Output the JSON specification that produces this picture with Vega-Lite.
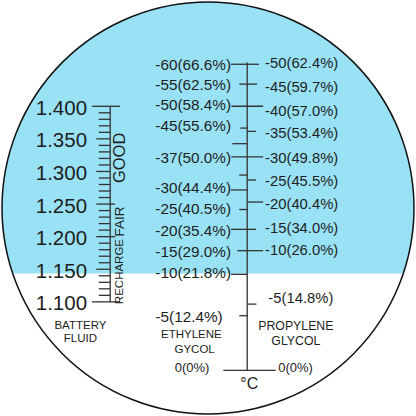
{
  "$schema": "https://vega.github.io/schema/vega-lite/v6.json",
  "width": 416,
  "height": 416,
  "padding": 0,
  "autosize": {"type": "fit", "contains": "padding"},
  "background": "white",
  "config": {"view": {"stroke": null}, "text": {"font": "Liberation Sans", "color": "#1e1e1e"}},
  "datasets": {
    "ring": [{"cx": 20.85, "cy": 20.65}],
    "lower": [{"xa": 0, "xb": 41.6, "ya": 27.25, "yb": 41.6}],
    "battery": [
      {"sg": 1.40, "x0": 9.17, "x1": 12.0},
      {"sg": 1.39, "x0": 9.85, "x1": 11.0},
      {"sg": 1.38, "x0": 9.85, "x1": 11.0},
      {"sg": 1.37, "x0": 9.85, "x1": 11.0},
      {"sg": 1.36, "x0": 9.85, "x1": 11.0},
      {"sg": 1.35, "x0": 9.6, "x1": 11.0},
      {"sg": 1.34, "x0": 9.85, "x1": 11.0},
      {"sg": 1.33, "x0": 9.85, "x1": 11.0},
      {"sg": 1.32, "x0": 9.85, "x1": 11.0},
      {"sg": 1.31, "x0": 9.85, "x1": 11.0},
      {"sg": 1.30, "x0": 9.6, "x1": 11.0},
      {"sg": 1.29, "x0": 9.85, "x1": 11.0},
      {"sg": 1.28, "x0": 9.85, "x1": 11.0},
      {"sg": 1.27, "x0": 9.85, "x1": 11.0},
      {"sg": 1.26, "x0": 9.85, "x1": 11.0},
      {"sg": 1.25, "x0": 9.6, "x1": 11.5},
      {"sg": 1.24, "x0": 9.85, "x1": 11.0},
      {"sg": 1.23, "x0": 9.85, "x1": 11.0},
      {"sg": 1.22, "x0": 9.85, "x1": 11.0},
      {"sg": 1.21, "x0": 9.85, "x1": 11.0},
      {"sg": 1.20, "x0": 9.6, "x1": 11.5},
      {"sg": 1.19, "x0": 9.85, "x1": 11.0},
      {"sg": 1.18, "x0": 9.85, "x1": 11.0},
      {"sg": 1.17, "x0": 9.85, "x1": 11.0},
      {"sg": 1.16, "x0": 9.85, "x1": 11.0},
      {"sg": 1.15, "x0": 9.6, "x1": 11.0},
      {"sg": 1.14, "x0": 9.85, "x1": 11.0},
      {"sg": 1.13, "x0": 9.85, "x1": 11.0},
      {"sg": 1.12, "x0": 9.85, "x1": 11.0},
      {"sg": 1.11, "x0": 9.85, "x1": 11.0},
      {"sg": 1.10, "x0": 9.17, "x1": 12.0}
    ],
    "batterySpine": [{"x": 11.0, "top": 1.40, "bottom": 1.10}],
    "batteryLabels": [
      {"sg": 1.400, "label": "1.400"},
      {"sg": 1.350, "label": "1.350"},
      {"sg": 1.300, "label": "1.300"},
      {"sg": 1.250, "label": "1.250"},
      {"sg": 1.200, "label": "1.200"},
      {"sg": 1.150, "label": "1.150"},
      {"sg": 1.100, "label": "1.100"}
    ],
    "glycolTicks": [
      {"y": 6.17, "x0": 23.17, "x1": 26.0},
      {"y": 8.17, "x0": 24.0, "x1": 25.8},
      {"y": 10.4, "x0": 23.2, "x1": 26.4},
      {"y": 12.6, "x0": 24.1, "x1": 24.8},
      {"y": 12.93, "x0": 24.8, "x1": 25.67},
      {"y": 14.17, "x0": 23.3, "x1": 24.8},
      {"y": 15.5, "x0": 23.2, "x1": 26.4},
      {"y": 17.33, "x0": 24.0, "x1": 24.8},
      {"y": 17.83, "x0": 24.8, "x1": 25.7},
      {"y": 18.83, "x0": 23.17, "x1": 24.8},
      {"y": 20.05, "x0": 24.8, "x1": 26.4},
      {"y": 20.8, "x0": 24.0, "x1": 24.8},
      {"y": 22.8, "x0": 23.17, "x1": 25.7},
      {"y": 24.95, "x0": 23.8, "x1": 26.4},
      {"y": 27.33, "x0": 23.17, "x1": 24.8},
      {"y": 30.33, "x0": 24.8, "x1": 25.73},
      {"y": 31.5, "x0": 24.0, "x1": 24.8},
      {"y": 37.0, "x0": 22.4, "x1": 27.67}
    ],
    "glycolSpine": [{"x": 24.8, "top": 6.0, "bottom": 37.0}],
    "ethylene": [
      {"y": 6.27, "x": 23.17, "label": "-60(66.6%)"},
      {"y": 8.23, "x": 23.17, "label": "-55(62.5%)"},
      {"y": 10.27, "x": 23.17, "label": "-50(58.4%)"},
      {"y": 12.4, "x": 23.17, "label": "-45(55.6%)"},
      {"y": 15.6, "x": 23.17, "label": "-37(50.0%)"},
      {"y": 18.67, "x": 23.17, "label": "-30(44.4%)"},
      {"y": 20.77, "x": 23.17, "label": "-25(40.5%)"},
      {"y": 22.93, "x": 23.17, "label": "-20(35.4%)"},
      {"y": 25.07, "x": 23.17, "label": "-15(29.0%)"},
      {"y": 27.23, "x": 23.17, "label": "-10(21.8%)"},
      {"y": 31.6, "x": 22.33, "label": "-5(12.4%)"}
    ],
    "propylene": [
      {"y": 6.17, "x": 26.6, "label": "-50(62.4%)"},
      {"y": 8.6, "x": 26.6, "label": "-45(59.7%)"},
      {"y": 11.0, "x": 26.6, "label": "-40(57.0%)"},
      {"y": 13.17, "x": 26.6, "label": "-35(53.4%)"},
      {"y": 15.73, "x": 26.6, "label": "-30(49.8%)"},
      {"y": 18.07, "x": 26.6, "label": "-25(45.5%)"},
      {"y": 20.33, "x": 26.6, "label": "-20(40.4%)"},
      {"y": 22.73, "x": 26.6, "label": "-15(34.0%)"},
      {"y": 25.0, "x": 26.6, "label": "-10(26.0%)"},
      {"y": 29.83, "x": 26.93, "label": "-5(14.8%)"}
    ],
    "captions": [
      {"group": "small", "x": 8.0, "y": 32.5, "label": "BATTERY"},
      {"group": "small", "x": 8.0, "y": 33.85, "label": "FLUID"},
      {"group": "small", "x": 19.17, "y": 33.45, "label": "ETHYLENE"},
      {"group": "small", "x": 19.5, "y": 35.0, "label": "GYCOL"},
      {"group": "mid", "x": 29.7, "y": 32.5, "label": "PROPYLENE"},
      {"group": "mid", "x": 29.7, "y": 34.0, "label": "GLYCOL"},
      {"group": "zero", "x": 19.25, "y": 36.75, "label": "0(0%)"},
      {"group": "zero", "x": 29.67, "y": 36.75, "label": "0(0%)"},
      {"group": "unit", "x": 25.0, "y": 38.35, "label": "°C"}
    ],
    "zones": [
      {"zone": "GOOD", "x": 12.0, "y": 15.6},
      {"zone": "FAIR", "x": 12.0, "y": 22.0},
      {"zone": "RECHARGE", "x": 12.0, "y": 27.05}
    ]
  },
  "layer": [
    {
      "data": {"name": "ring"},
      "mark": {"type": "point", "shape": "circle", "filled": true, "size": 169744, "color": "#99E2F6", "opacity": 1, "strokeWidth": 0},
      "encoding": {
        "x": {"field": "cx", "type": "quantitative", "scale": {"domain": [0, 41.6]}, "axis": null},
        "y": {"field": "cy", "type": "quantitative", "scale": {"domain": [0, 41.6], "reverse": true}, "axis": null}
      }
    },
    {
      "data": {"name": "lower"},
      "mark": {"type": "rect", "color": "white"},
      "encoding": {
        "x": {"field": "xa", "type": "quantitative", "scale": {"domain": [0, 41.6]}, "axis": null},
        "x2": {"field": "xb"},
        "y": {"field": "ya", "type": "quantitative", "scale": {"domain": [0, 41.6], "reverse": true}, "axis": null},
        "y2": {"field": "yb"}
      }
    },
    {
      "data": {"name": "battery"},
      "mark": {"type": "rule", "color": "#333333", "strokeWidth": 1.3},
      "encoding": {
        "x": {"field": "x0", "type": "quantitative", "scale": {"domain": [0, 41.6]}, "axis": null},
        "x2": {"field": "x1"},
        "y": {"field": "sg", "type": "quantitative", "scale": {"domain": [0.9249, 1.5584], "zero": false}, "axis": null}
      }
    },
    {
      "data": {"name": "batterySpine"},
      "mark": {"type": "rule", "color": "#333333", "strokeWidth": 1.3},
      "encoding": {
        "x": {"field": "x", "type": "quantitative", "scale": {"domain": [0, 41.6]}, "axis": null},
        "y": {"field": "top", "type": "quantitative", "scale": {"domain": [0.9249, 1.5584], "zero": false}, "axis": null},
        "y2": {"field": "bottom"}
      }
    },
    {
      "data": {"name": "batteryLabels"},
      "mark": {"type": "text", "align": "right", "baseline": "middle", "fontSize": 20.5, "dy": 2.5},
      "encoding": {
        "x": {"datum": 8.67, "type": "quantitative", "scale": {"domain": [0, 41.6]}, "axis": null},
        "y": {"field": "sg", "type": "quantitative", "scale": {"domain": [0.9249, 1.5584], "zero": false}, "axis": null},
        "text": {"field": "label"}
      }
    },
    {
      "data": {"name": "glycolTicks"},
      "mark": {"type": "rule", "color": "#333333", "strokeWidth": 1.3},
      "encoding": {
        "x": {"field": "x0", "type": "quantitative", "scale": {"domain": [0, 41.6]}, "axis": null},
        "x2": {"field": "x1"},
        "y": {"field": "y", "type": "quantitative", "scale": {"domain": [0, 41.6], "reverse": true}, "axis": null}
      }
    },
    {
      "data": {"name": "glycolSpine"},
      "mark": {"type": "rule", "color": "#333333", "strokeWidth": 1.3},
      "encoding": {
        "x": {"field": "x", "type": "quantitative", "scale": {"domain": [0, 41.6]}, "axis": null},
        "y": {"field": "top", "type": "quantitative", "scale": {"domain": [0, 41.6], "reverse": true}, "axis": null},
        "y2": {"field": "bottom"}
      }
    },
    {
      "data": {"name": "ethylene"},
      "mark": {"type": "text", "align": "right", "baseline": "middle", "fontSize": 15.3},
      "encoding": {
        "x": {"field": "x", "type": "quantitative", "scale": {"domain": [0, 41.6]}, "axis": null},
        "y": {"field": "y", "type": "quantitative", "scale": {"domain": [0, 41.6], "reverse": true}, "axis": null},
        "text": {"field": "label"}
      }
    },
    {
      "data": {"name": "propylene"},
      "mark": {"type": "text", "align": "left", "baseline": "middle", "fontSize": 14.8},
      "encoding": {
        "x": {"field": "x", "type": "quantitative", "scale": {"domain": [0, 41.6]}, "axis": null},
        "y": {"field": "y", "type": "quantitative", "scale": {"domain": [0, 41.6], "reverse": true}, "axis": null},
        "text": {"field": "label"}
      }
    },
    {
      "data": {"name": "captions"},
      "transform": [{"filter": "datum.group === 'small'"}],
      "mark": {"type": "text", "align": "center", "baseline": "middle", "fontSize": 11.5},
      "encoding": {
        "x": {"field": "x", "type": "quantitative", "scale": {"domain": [0, 41.6]}, "axis": null},
        "y": {"field": "y", "type": "quantitative", "scale": {"domain": [0, 41.6], "reverse": true}, "axis": null},
        "text": {"field": "label"}
      }
    },
    {
      "data": {"name": "captions"},
      "transform": [{"filter": "datum.group === 'mid'"}],
      "mark": {"type": "text", "align": "center", "baseline": "middle", "fontSize": 12.3},
      "encoding": {
        "x": {"field": "x", "type": "quantitative", "scale": {"domain": [0, 41.6]}, "axis": null},
        "y": {"field": "y", "type": "quantitative", "scale": {"domain": [0, 41.6], "reverse": true}, "axis": null},
        "text": {"field": "label"}
      }
    },
    {
      "data": {"name": "captions"},
      "transform": [{"filter": "datum.group === 'zero'"}],
      "mark": {"type": "text", "align": "center", "baseline": "middle", "fontSize": 13},
      "encoding": {
        "x": {"field": "x", "type": "quantitative", "scale": {"domain": [0, 41.6]}, "axis": null},
        "y": {"field": "y", "type": "quantitative", "scale": {"domain": [0, 41.6], "reverse": true}, "axis": null},
        "text": {"field": "label"}
      }
    },
    {
      "data": {"name": "captions"},
      "transform": [{"filter": "datum.group === 'unit'"}],
      "mark": {"type": "text", "align": "center", "baseline": "middle", "fontSize": 16},
      "encoding": {
        "x": {"field": "x", "type": "quantitative", "scale": {"domain": [0, 41.6]}, "axis": null},
        "y": {"field": "y", "type": "quantitative", "scale": {"domain": [0, 41.6], "reverse": true}, "axis": null},
        "text": {"field": "label"}
      }
    },
    {
      "data": {"name": "zones"},
      "transform": [{"filter": "datum.zone === 'GOOD'"}],
      "mark": {"type": "text", "align": "center", "baseline": "middle", "angle": 270, "fontSize": 16.5},
      "encoding": {
        "x": {"field": "x", "type": "quantitative", "scale": {"domain": [0, 41.6]}, "axis": null},
        "y": {"field": "y", "type": "quantitative", "scale": {"domain": [0, 41.6], "reverse": true}, "axis": null},
        "text": {"field": "zone"}
      }
    },
    {
      "data": {"name": "zones"},
      "transform": [{"filter": "datum.zone === 'FAIR'"}],
      "mark": {"type": "text", "align": "center", "baseline": "middle", "angle": 270, "fontSize": 13.5},
      "encoding": {
        "x": {"field": "x", "type": "quantitative", "scale": {"domain": [0, 41.6]}, "axis": null},
        "y": {"field": "y", "type": "quantitative", "scale": {"domain": [0, 41.6], "reverse": true}, "axis": null},
        "text": {"field": "zone"}
      }
    },
    {
      "data": {"name": "zones"},
      "transform": [{"filter": "datum.zone === 'RECHARGE'"}],
      "mark": {"type": "text", "align": "center", "baseline": "middle", "angle": 270, "fontSize": 11.5},
      "encoding": {
        "x": {"field": "x", "type": "quantitative", "scale": {"domain": [0, 41.6]}, "axis": null},
        "y": {"field": "y", "type": "quantitative", "scale": {"domain": [0, 41.6], "reverse": true}, "axis": null},
        "text": {"field": "zone"}
      }
    },
    {
      "data": {"name": "ring"},
      "mark": {"type": "point", "shape": "circle", "filled": false, "size": 169744, "color": "#111111", "opacity": 1, "strokeWidth": 1.5},
      "encoding": {
        "x": {"field": "cx", "type": "quantitative", "scale": {"domain": [0, 41.6]}, "axis": null},
        "y": {"field": "cy", "type": "quantitative", "scale": {"domain": [0, 41.6], "reverse": true}, "axis": null}
      }
    }
  ],
  "resolve": {"scale": {"y": "independent"}}
}
